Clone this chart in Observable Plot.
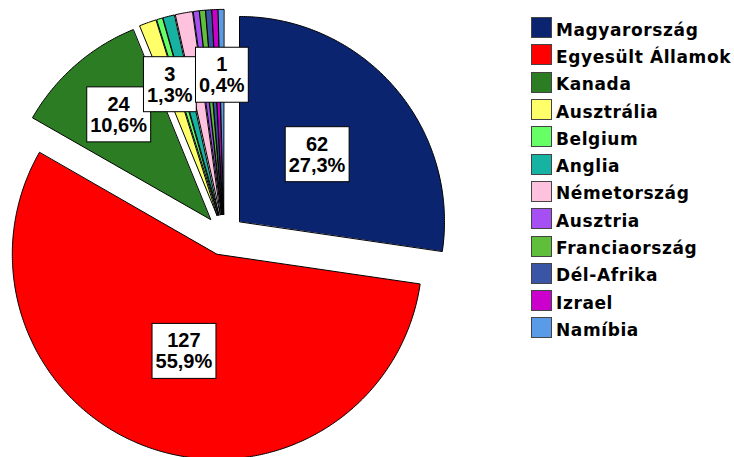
<!DOCTYPE html>
<html><head><meta charset="utf-8">
<script src="https://cdn.jsdelivr.net/npm/d3@7"></script>
<script src="https://cdn.jsdelivr.net/npm/@observablehq/plot@0.6"></script>
<style>
body{margin:0;background:#fff;}
#wrap{position:relative;width:734px;height:457px;overflow:hidden;font-family:"DejaVu Sans",sans-serif;}
#wrap svg{position:absolute;left:0;top:0;}
#legend{position:absolute;left:531px;top:14px;}
.row{display:flex;align-items:center;height:27.3px;}
.sw{width:19px;height:19px;border:1px solid #444;}
.lab{margin-left:4px;font-size:17px;font-weight:bold;letter-spacing:0.6px;position:relative;top:2px;color:#000;white-space:nowrap;}
</style></head><body><div id="wrap"></div>
<script>
const countries = ["Magyarország","Egyesült Államok","Kanada","Ausztrália","Belgium","Anglia","Németország","Ausztria","Franciaország","Dél-Afrika","Izrael","Namíbia"];
const counts = [62,127,24,3,1,2,3,1,1,1,1,1];
const colors = ["#0b246f","#ff0000","#2b7c22","#ffff6a","#66ff66","#17b3a2","#ffc2de","#a64ff2","#5fbf3a","#3a55a6","#cc00cc","#5a9be8"];
const labeled = ["Magyarország","Egyesült Államok","Kanada","Ausztrália","Namíbia"];

const total = d3.sum(counts);
const fmtPct = v => (Math.round(v*1000)/10).toFixed(1).replace(".", ",") + "%";
const arcs = d3.pie().sort(null).value(d => d.count)(countries.map((c,i) => ({country:c, count:counts[i]})));
const EXPLODE = 0.1;
const pts = [];
const labels = [];
arcs.forEach(a => {
  const mid = (a.startAngle + a.endAngle) / 2;
  const ox = EXPLODE * Math.sin(mid), oy = EXPLODE * Math.cos(mid);
  pts.push({country:a.data.country, x:ox, y:oy});
  const n = Math.max(2, Math.ceil((a.endAngle - a.startAngle) / 0.01));
  for (let k = 0; k <= n; k++) {
    const t = a.startAngle + (a.endAngle - a.startAngle) * k / n;
    pts.push({country:a.data.country, x:ox + Math.sin(t), y:oy + Math.cos(t)});
  }
  if (labeled.includes(a.data.country)) {
    const share = a.data.count / total;
    const f = share > 0.2 ? 0.5 : 0.68;
    labels.push({x:ox + f*Math.sin(mid), y:oy + f*Math.cos(mid), text:a.data.count + "\n" + fmtPct(share)});
  }
});

const R = 205, CX = 223.5, CY = 234.4;
const plot = Plot.plot({
  width:734, height:457, margin:0,
  style:{fontFamily:"DejaVu Sans", background:"white"},
  x:{domain:[-1,1], range:[CX-R, CX+R], axis:null},
  y:{domain:[-1,1], range:[CY+R, CY-R], axis:null},
  color:{domain:countries, range:colors},
  marks:[
    Plot.line(pts, {x:"x", y:"y", z:"country", fill:"country", stroke:"#000", strokeWidth:1, curve:"linear-closed", strokeLinejoin:"miter"}),
    Plot.text(labels, {x:"x", y:"y", text:"text", fontSize:20, fontWeight:"bold", fontFamily:"Liberation Sans", lineHeight:1.05, fill:"#000"})
  ]
});
const wrap = document.getElementById("wrap");
wrap.append(plot);

plot.querySelectorAll('g[aria-label="text"] text').forEach(t => {
  const bb = t.getBBox();
  const r = document.createElementNS("http://www.w3.org/2000/svg", "rect");
  r.setAttribute("x", bb.x - 3.5);
  r.setAttribute("y", bb.y - 6);
  r.setAttribute("width", bb.width + 7);
  r.setAttribute("height", bb.height + 12);
  r.setAttribute("fill", "#fff");
  r.setAttribute("stroke", "#000");
  r.setAttribute("stroke-width", 1);
  if (t.getAttribute("transform")) r.setAttribute("transform", t.getAttribute("transform"));
  t.parentNode.insertBefore(r, t);
});

const cs = plot.scale("color");
const legend = document.createElement("div");
legend.id = "legend";
cs.domain.forEach((c, i) => {
  const row = document.createElement("div");
  row.className = "row";
  const sw = document.createElement("div");
  sw.className = "sw";
  sw.style.background = cs.range[i];
  const lab = document.createElement("div");
  lab.className = "lab";
  lab.textContent = c;
  row.append(sw, lab);
  legend.append(row);
});
wrap.append(legend);
</script></body></html>
